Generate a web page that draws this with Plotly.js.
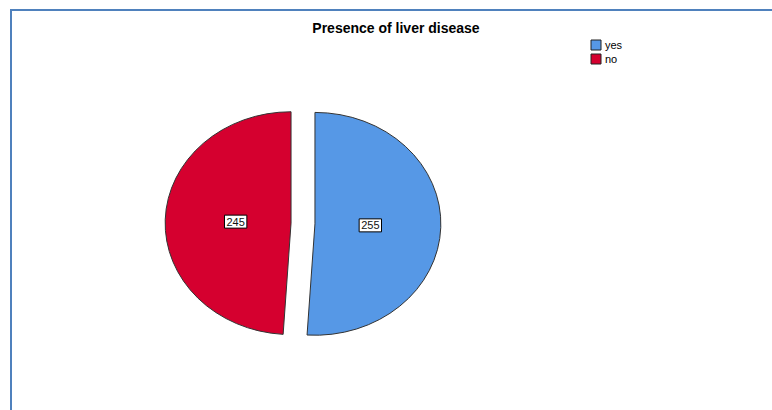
<!DOCTYPE html>
<html>
<head>
<meta charset="utf-8">
<script src="https://cdn.plot.ly/plotly-3.0.1.min.js"></script>
<style>html,body{margin:0;padding:0;background:#fff;} #chart{width:772px;height:410px;}</style>
</head>
<body>
<div id="chart"></div>
<script>
const categories = ["yes", "no"];
const counts = [255, 245];
const sliceColors = ["#5698E6", "#D5002F"];
const chartTitle = "Presence of liver disease";

const W = 772, H = 410;
const pullFrac = 0.095;
const stretchX = 1.13;
const labelRadius = 0.44;
const legendRowGap = 14;

const trace = {
  type: "pie",
  labels: categories,
  values: counts,
  sort: false,
  direction: "clockwise",
  rotation: 0,
  pull: [pullFrac, pullFrac],
  marker: { colors: sliceColors, line: { color: "#333333", width: 1 } },
  textinfo: "value",
  textposition: "inside",
  insidetextorientation: "horizontal",
  textfont: { family: "Liberation Sans, Arial, sans-serif", size: 11, color: "#111" },
  hoverinfo: "none",
  domain: { x: [181 / W, 425 / W], y: [1 - 345.5 / H, 1 - 101.5 / H] }
};

const layout = {
  width: W, height: H,
  margin: { l: 0, r: 0, t: 0, b: 0 },
  paper_bgcolor: "#ffffff",
  font: { family: "Liberation Sans, Arial, sans-serif", color: "#000" },
  title: {
    text: "<b>" + chartTitle + "</b>",
    font: { size: 14, family: "Liberation Sans, Arial, sans-serif", color: "#000" },
    x: 396 / W, xanchor: "center", xref: "paper",
    y: 1 - 28 / H, yanchor: "middle", yref: "paper"
  },
  showlegend: true,
  legend: {
    x: 576 / W, y: 1 - 30.5 / H, xanchor: "left", yanchor: "top",
    font: { size: 11, family: "Liberation Sans, Arial, sans-serif", color: "#000" },
    bgcolor: "rgba(0,0,0,0)", itemwidth: 30
  },
  shapes: [
    { type: "line", xref: "paper", yref: "paper", x0: 11 / W, x1: 11 / W, y0: 0, y1: 1 - 10 / H,
      line: { color: "#4F81BD", width: 2 } },
    { type: "line", xref: "paper", yref: "paper", x0: 10 / W, x1: 1, y0: 1 - 10 / H, y1: 1 - 10 / H,
      line: { color: "#4F81BD", width: 2 } }
  ]
};

const SVGNS = "http://www.w3.org/2000/svg";

Plotly.newPlot("chart", [trace], layout, { staticPlot: true, displayModeBar: false }).then(function (gd) {
  const cd = gd.calcdata[0];
  const cx = cd[0].cx, cy = cd[0].cy;
  const tr = gd.querySelector(".pielayer .trace");

  // place value labels in white boxes, counter-stretched so the text stays undistorted
  tr.querySelectorAll("g.slice").forEach(function (sl, i) {
    const pt = cd[i];
    const txt = sl.querySelector("g.slicetext text");
    if (!txt || !pt) return;
    txt.removeAttribute("transform");
    const bb = txt.getBBox();
    const k = pullFrac + labelRadius;
    const lx = cx + k * pt.pxmid[0];
    const ly = cy + k * pt.pxmid[1];
    const bcx = bb.x + bb.width / 2, bcy = bb.y + bb.height / 2;
    const tf = "translate(" + lx + "," + ly + ") scale(" + (1 / stretchX) + ",1) translate(" + (-bcx) + "," + (-bcy) + ")";
    txt.setAttribute("transform", tf);
    const r = document.createElementNS(SVGNS, "rect");
    const bw = bb.width + 4, bh = 13;
    r.setAttribute("x", bcx - bw / 2);
    r.setAttribute("y", bcy - bh / 2);
    r.setAttribute("width", bw);
    r.setAttribute("height", bh);
    r.setAttribute("fill", "#fff");
    r.setAttribute("stroke", "#000");
    r.setAttribute("stroke-width", "1");
    r.setAttribute("transform", tf);
    txt.parentNode.insertBefore(r, txt);
  });
  tr.querySelectorAll("path.surface").forEach(function (p) {
    p.setAttribute("vector-effect", "non-scaling-stroke");
  });
  tr.setAttribute("transform", "translate(" + cx + "," + cy + ") scale(" + stretchX + ",1) translate(" + (-cx) + "," + (-cy) + ")");

  // compact legend: smaller swatches, tighter rows, text closer to swatch
  const items = gd.querySelectorAll(".legend .traces");
  let y0 = null;
  items.forEach(function (it, i) {
    const m = /translate\(\s*([-\d.e]+)[ ,]+([-\d.e]+)\s*\)/.exec(it.getAttribute("transform") || "");
    if (m) {
      const tx = parseFloat(m[1]), ty = parseFloat(m[2]);
      if (y0 === null) y0 = ty;
      it.setAttribute("transform", "translate(" + tx + "," + (y0 + i * legendRowGap) + ")");
    }
    it.querySelectorAll(".legendpoints path").forEach(function (p) {
      p.setAttribute("d", "M5,5H-5V-5H5Z");
      p.style.strokeWidth = "1px";
      p.style.stroke = "#222";
    });
    const t = it.querySelector("text.legendtext");
    if (t) t.setAttribute("x", 29);
  });
});
</script>
</body>
</html>
